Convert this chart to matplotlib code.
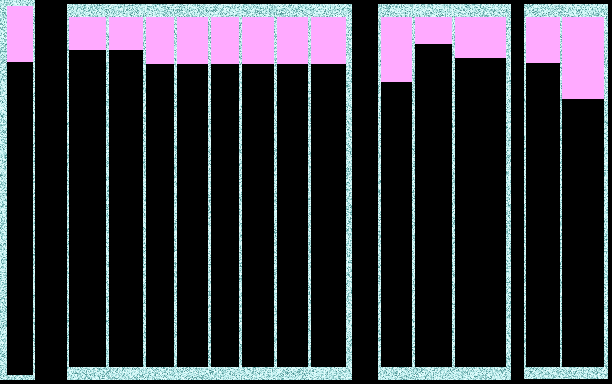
import numpy as np
import matplotlib
matplotlib.use("Agg")
import matplotlib.pyplot as plt
from matplotlib.colors import LinearSegmentedColormap

# ---- data: per-panel bar widths and black (lower) share of each 100% bar ----
p1_widths = [26]
p1_share = [0.848]
p2_widths = [37, 34, 28, 31, 28, 32, 31, 35]
p2_share = [0.906, 0.906, 0.866, 0.866, 0.866, 0.866, 0.866, 0.866]
p3_widths = [31, 37, 51]
p3_share = [0.814, 0.923, 0.883]
p4_widths = [34, 42]
p4_share = [0.869, 0.766]

BLACK = "#000000"
PINK = "#ffaaff"

# panel layout (pixels): x0, x1, y0, y1, bar left margin, bar top, bar bottom, gap
panels = [
    (p1_widths, p1_share, 0, 35, 0, 380, 7, 6, 375, 3),
    (p2_widths, p2_share, 67, 352, 4, 380, 2, 17, 367, 3),
    (p3_widths, p3_share, 378, 511, 4, 380, 3, 17, 367, 3),
    (p4_widths, p4_share, 524, 608, 4, 379, 2, 17, 367, 2),
]

W, H = 612, 384
fig = plt.figure(figsize=(W / 100, H / 100), dpi=100, facecolor="black")
rng = np.random.default_rng(3)
cmap = LinearSegmentedColormap.from_list(
    "tex", ["#3f8585", "#7fbcbc", "#bfeeee", "#e8ffff"])

for widths, share, x0, x1, y0, y1, lm, bt, bb, gap in panels:
    ax = fig.add_axes([x0 / W, 1 - y1 / H, (x1 - x0) / W, (y1 - y0) / H])
    barh = bb - bt
    ylo = -(y1 - bb) / barh
    yhi = 1 + (bt - y0) / barh
    xlo, xhi = -lm, (x1 - x0) - lm
    tex = rng.random((y1 - y0, x1 - x0)) ** 0.6
    ax.imshow(tex, cmap=cmap, extent=(xlo, xhi, ylo, yhi), aspect="auto",
              interpolation="nearest", zorder=0)
    lefts = np.concatenate([[0], np.cumsum(np.array(widths) + gap)[:-1]])
    s = np.array(share)
    ax.bar(lefts, s, width=widths, align="edge", color=BLACK,
           linewidth=0, zorder=2)
    ax.bar(lefts, 1 - s, bottom=s, width=widths, align="edge", color=PINK,
           linewidth=0, zorder=2)
    ax.set_xlim(xlo, xhi)
    ax.set_ylim(ylo, yhi)
    ax.axis("off")

fig.savefig("out.png", dpi=100, facecolor="black")
